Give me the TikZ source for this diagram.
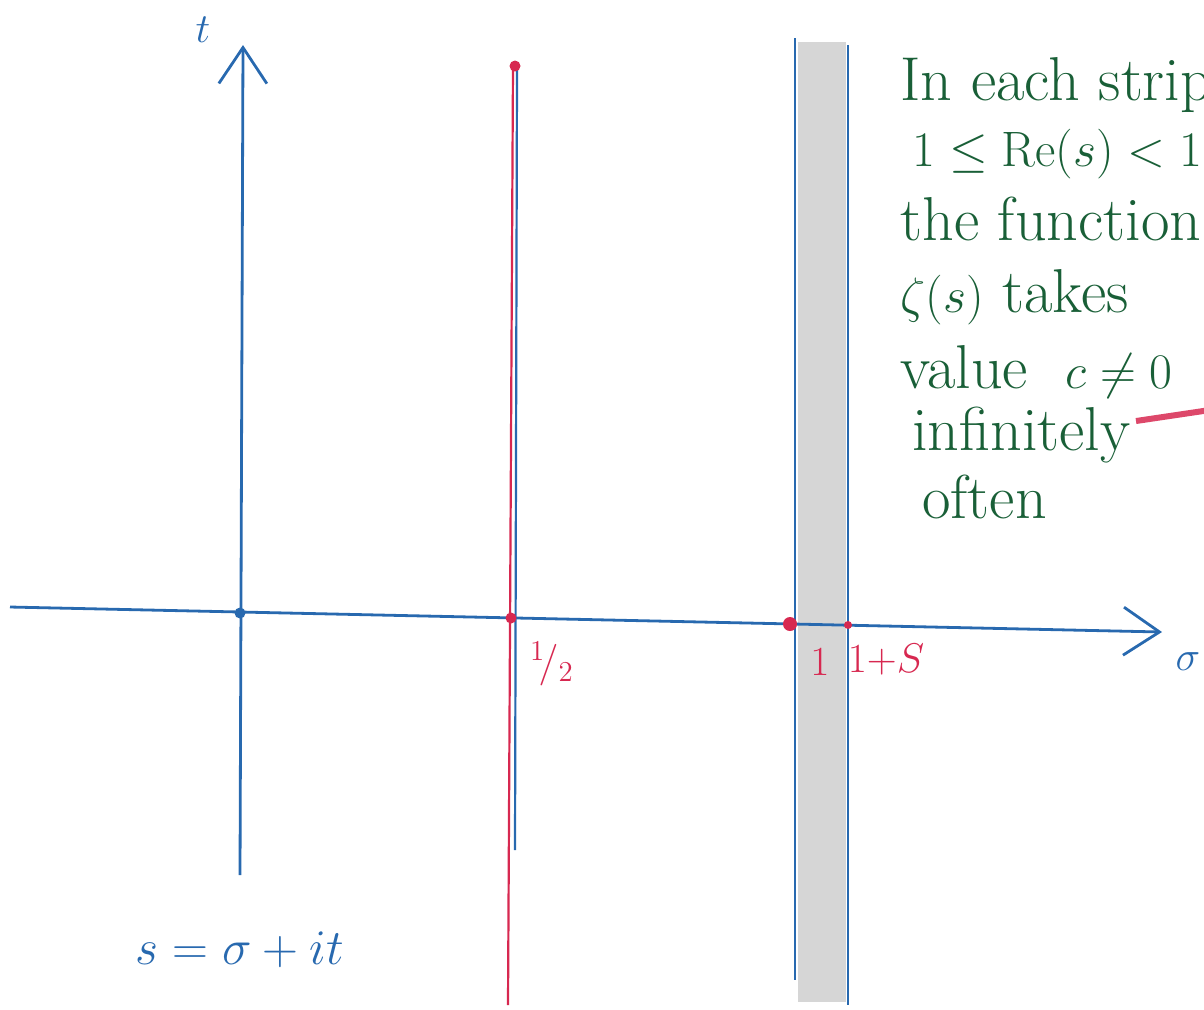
\documentclass[tikz,border=0pt]{standalone}
\usetikzlibrary{arrows.meta}

\definecolor{penblue}{RGB}{40,105,175}
\definecolor{penred}{RGB}{215,40,80}
\definecolor{pengreen}{RGB}{25,95,55}
\definecolor{stripgray}{RGB}{214,214,214}

\begin{document}
\begin{tikzpicture}[
    x=0.5pt, y=-0.5pt,
    >={Straight Barb[length=18pt,width=24pt,line width=1.4pt]},
    axis/.style={
        ->,
        draw=penblue,
        line width=1.4pt
    },
    edge/.style={
        draw=penblue,
        line width=1.1pt
    },
    critical/.style={
        draw=penred,
        line width=1.1pt
    },
    dot/.style={
        circle,
        fill=#1,
        inner sep=0pt,
        minimum size=5.5pt
    },
    label/.style={
        text=#1,
        inner sep=1pt,
        font=\fontsize{22}{26}\selectfont
    },
    note/.style={
        text=pengreen,
        anchor=base west,
        inner sep=0pt,
        font=\fontsize{31}{36}\selectfont
    }
]
    \useasboundingbox (0,0) rectangle (1204,1009);
    \clip (0,0) rectangle (1204,1009);

    % Strip
    \fill[stripgray] (798,42) rectangle (846,1002);
    \coordinate (sl top) at (795,38);
    \coordinate (sl bot) at (795,980);
    \coordinate (sr top) at (848,45);
    \coordinate (sr bot) at (848,1005);
    \draw[edge] (sl top) -- (sl bot);
    \draw[edge] (sr top) -- (sr bot);

    % Critical line
    \coordinate (half top) at (513,65);
    \coordinate (half bot) at (508,1005);
    \coordinate (half blue top) at (517,70);
    \coordinate (half blue bot) at (515,850);
    \draw[edge] (half blue top) -- (half blue bot);
    \draw[critical] (half top) -- (half bot);

    % Axes
    \coordinate (sw) at (10,607);
    \coordinate (se) at (1162,632);
    \coordinate (ts) at (240,875);
    \coordinate (tn) at (243,45);
    \draw[axis] (sw) -- (se);
    \draw[axis] (ts) -- (tn);

    % Points on the axis
    \node[dot=penblue] (origin) at (240,613) {};
    \node[dot=penred] (halfpt) at (511,618) {};
    \node[dot=penred] (halftop) at (515,66) {};
    \node[dot=penred, minimum size=7pt] (onept) at (790,624) {};
    \node[dot=penred, minimum size=4pt] (deltapt) at (848,625) {};

    % Labels
    \node[label=penblue] (tlabel) at (203,30) {$t$};
    \node[label=penblue] (sigma) at (1188,662) {$\sigma$};
    \node[label=penred] (halflabel) at (552,664) {$^1\!/_2$};
    \node[label=penred] (onelabel) at (820,662) {$1$};
    \node[label=penred] (deltalabel) at (886,660) {$1{+}S$};
    \node[label=penblue, font=\fontsize{26}{30}\selectfont] (formula) at (240,950) {$s=\sigma+it$};

    % Note
    \node[note] (line1) at (900,100) {In each strip};
    \node[note] (line2) at (912,166) {$1\le\mathrm{Re}(s)<1+\delta$};
    \node[note] (line3) at (900,240) {the function};
    \node[note] (line4) at (900,312) {$\zeta(s)$ takes};
    \node[note] (line5) at (900,388) {value \ $c\neq0$};
    \node[note] (line6) at (912,450) {infinitely};
    \node[note] (line7) at (922,518) {often};

    % Underline
    \coordinate (ul a) at (1136,421);
    \coordinate (ul b) at (1210,410);
    \draw[draw=penred!85!white, line width=3pt] (ul a) -- (ul b);

\end{tikzpicture}
\end{document}
